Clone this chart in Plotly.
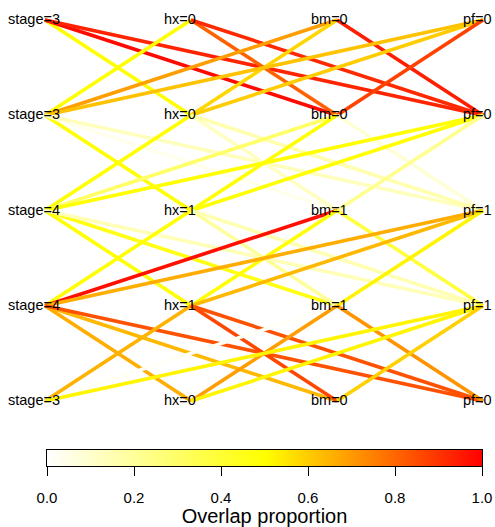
import plotly.graph_objects as go
from plotly.colors import sample_colorscale

# ---------------- data ----------------
columns = ["stage", "hx", "bm", "pf"]
stage_labels = ["stage=3", "stage=3", "stage=4", "stage=4", "stage=3"]
hx_labels = ["hx=0", "hx=0", "hx=1", "hx=1", "hx=0"]
bm_labels = ["bm=0", "bm=0", "bm=1", "bm=1", "bm=0"]
pf_labels = ["pf=0", "pf=0", "pf=1", "pf=1", "pf=0"]

# overlap proportion of edge (row r, column i) -> (row r+1, column j)
overlap_rows_0_1 = [
    [None, 0.50, 0.98, 0.93],
    [0.50, None, 0.81, 0.92],
    [0.69, 0.58, None, 0.94],
    [0.62, 0.60, 0.87, None],
]
overlap_rows_1_2 = [
    [None, 0.50, 0.04, 0.13],
    [0.50, None, 0.12, 0.16],
    [0.30, 0.50, None, 0.08],
    [0.50, 0.50, 0.22, None],
]
overlap_rows_2_3 = [
    [None, 0.50, 0.47, 0.14],
    [0.50, None, 0.20, 0.15],
    [0.97, 0.50, None, 0.38],
    [0.66, 0.64, 0.52, None],
]
overlap_rows_3_4 = [
    [None, 0.66, 0.64, 0.84],
    [0.65, None, 0.86, 0.84],
    [0.02, 0.69, None, 0.71],
    [0.52, 0.52, 0.59, None],
]
colorbar_ticks = [0.0, 0.2, 0.4, 0.6, 0.8, 1.0]
colorbar_title = "Overlap proportion"

# ---------------- figure ----------------
colorscale = [[0.0, "#FFFFFF"], [0.5, "#FFFF00"], [1.0, "#FF0000"]]
labels_by_col = [stage_labels, hx_labels, bm_labels, pf_labels]
overlaps = [overlap_rows_0_1, overlap_rows_1_2, overlap_rows_2_3, overlap_rows_3_4]
FONT = "Liberation Sans, Arial"

fig = go.Figure()
for r, mat in enumerate(overlaps):
    for i in range(len(columns)):
        for j in range(len(columns)):
            v = mat[i][j]
            if v is None:
                continue
            c = sample_colorscale(colorscale, [v])[0]
            fig.add_trace(go.Scatter(
                x=[i, j], y=[r, r + 1], mode="lines",
                line=dict(color=c, width=3.6),
                hoverinfo="skip", showlegend=False,
                xaxis="x", yaxis="y",
            ))

# colour key drawn as a smooth heatmap on its own axis
fig.add_trace(go.Heatmap(
    x=colorbar_ticks, y=[0], z=[colorbar_ticks],
    zmin=0, zmax=1, colorscale=colorscale, zsmooth="best",
    showscale=False, hoverinfo="skip",
    xaxis="x2", yaxis="y2",
))

xshifts = [-10.5, -11, -8, -6]
annotations = []
for ci, labs in enumerate(labels_by_col):
    for r, lab in enumerate(labs):
        annotations.append(dict(
            x=ci, y=r, xref="x", yref="y", text=lab, showarrow=False,
            xshift=xshifts[ci], yshift=1,
            font=dict(size=14.5, color="black", family=FONT),
            xanchor="center", yanchor="middle",
        ))

fig.update_layout(
    width=495, height=527,
    margin=dict(l=0, r=0, t=0, b=0, autoexpand=False),
    paper_bgcolor="white", plot_bgcolor="rgba(0,0,0,0)",
    xaxis=dict(range=[-0.308, 3.082], visible=False, fixedrange=True, domain=[0, 1]),
    yaxis=dict(range=[5.323, -0.21], visible=False, fixedrange=True, domain=[0, 1]),
    xaxis2=dict(
        domain=[47 / 495, 482 / 495], anchor="y2", range=[0, 1], fixedrange=True,
        showline=True, mirror=True, linecolor="black", linewidth=1,
        ticks="outside", ticklen=9, tickwidth=1, tickcolor="black",
        tickvals=colorbar_ticks, ticktext=[f"{t:.1f}" for t in colorbar_ticks],
        tickfont=dict(size=15, color="black", family=FONT),
        ticklabelstandoff=9,
        showgrid=False, zeroline=False,
        title=dict(text=colorbar_title, standoff=1,
                   font=dict(size=20, color="black", family=FONT)),
    ),
    yaxis2=dict(
        domain=[1 - 466 / 527, 1 - 450 / 527], anchor="x2", range=[-0.5, 0.5],
        fixedrange=True, showline=True, mirror=True, linecolor="black", linewidth=1,
        showticklabels=False, ticks="", showgrid=False, zeroline=False,
    ),
    annotations=annotations,
    font=dict(family=FONT),
)

fig.write_html(
    "out.html",
    config={"displayModeBar": False, "staticPlot": True},
    post_script="document.body.style.margin='0px';document.body.style.padding='0px';"
                "document.body.style.overflow='hidden';",
)
